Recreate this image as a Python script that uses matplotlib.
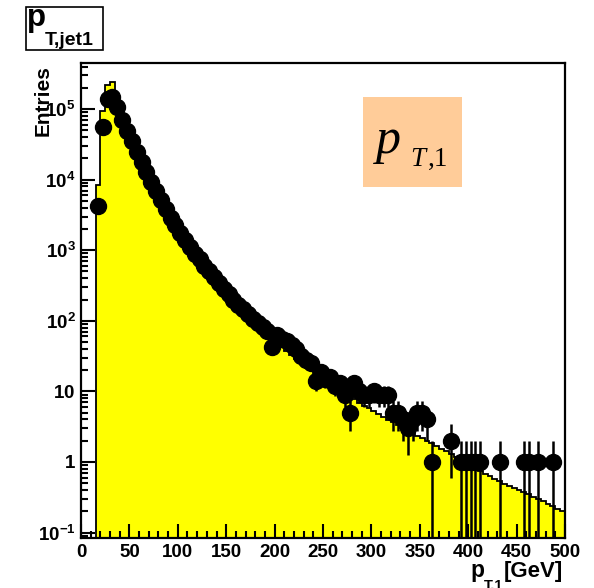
import numpy as np
import matplotlib
matplotlib.use("Agg")
import matplotlib.pyplot as plt
from matplotlib.patches import Rectangle
from matplotlib.ticker import FixedLocator, MultipleLocator, NullFormatter, FixedFormatter

plt.rcParams['font.family'] = ['Liberation Sans', 'DejaVu Sans']
plt.rcParams['mathtext.fontset'] = 'custom'
plt.rcParams['mathtext.rm'] = 'Liberation Sans:bold'
plt.rcParams['mathtext.it'] = 'Liberation Sans:bold'
plt.rcParams['mathtext.bf'] = 'Liberation Sans:bold'

# 5 GeV bins from 15 to 500 GeV
bin_edges = np.arange(15, 505, 5)

# Simulated leading-jet pT spectrum (entries per bin)
mc_counts = [
    8500, 93000, 219000, 240000, 132000, 79400, 51300, 33900, 22900, 15800,
    11200, 8130, 5890, 4370, 3240, 2450, 1910, 1480, 1170, 933,
    759, 617, 501, 417, 347, 288, 240, 204, 174, 148,
    129, 112, 97.7, 85.1, 74.1, 64.6, 56.2, 49.0, 42.7, 37.2,
    32.4, 28.8, 25.7, 22.9, 20.4, 18.2, 16.2, 14.5, 12.9, 11.7,
    10.5, 9.55, 8.51, 7.76, 6.92, 6.31, 5.75, 5.25, 4.79, 4.37,
    3.98, 3.63, 3.31, 3.02, 2.75, 2.57, 2.34, 2.19, 2.00, 1.86,
    1.70, 1.55, 1.41, 1.29, 1.17, 1.07, 0.977, 0.891, 0.813, 0.741,
    0.676, 0.631, 0.575, 0.537, 0.490, 0.457, 0.427, 0.398, 0.372, 0.347,
    0.324, 0.302, 0.282, 0.257, 0.240, 0.219, 0.204,
]

# Measured entries per bin (0 = empty bin)
data_counts = [
    4300, 55000, 138000, 148000, 107000, 71000, 49000, 35000, 24500, 17800,
    12900, 9300, 6900, 5100, 3800, 2900, 2240, 1740, 1380, 1100,
    890, 740, 600, 500, 417, 339, 282, 240, 200, 170,
    145, 126, 107, 93, 83, 72, 42, 63, 55, 52,
    46, 40, 32, 28, 25, 14, 19, 15, 16, 12,
    13, 9, 5, 13, 10, 9, 9, 10, 9, 9,
    9, 5, 5, 4, 3, 4, 5, 5, 4, 1,
    0, 0, 0, 2, 0, 1, 1, 1, 1, 1,
    0, 0, 0, 1, 0, 0, 0, 0, 1, 1,
    0, 1, 0, 0, 1, 0, 0,
]

x_tick_values = [0, 50, 100, 150, 200, 250, 300, 350, 400, 450, 500]
y_tick_values = [1e-1, 1, 10, 1e2, 1e3, 1e4, 1e5]
y_tick_labels = [r'$\mathbf{10^{-1}}$', r'$\mathbf{1}$', r'$\mathbf{10}$',
                 r'$\mathbf{10^{2}}$', r'$\mathbf{10^{3}}$',
                 r'$\mathbf{10^{4}}$', r'$\mathbf{10^{5}}$']

W, H = 594, 588
fig = plt.figure(figsize=(W / 100, H / 100), dpi=100)


def fx(px):
    return px / W


def fy(py):
    return 1 - py / H


ax = fig.add_axes([fx(81), fy(538), (565 - 81) / W, (538 - 63) / H])
ax.set_yscale('log')
ax.set_xlim(0, 500)
ax.set_ylim(0.0838, 4.49e5)

mc = np.array(mc_counts, dtype=float)
data = np.array(data_counts, dtype=float)
centers = 0.5 * (bin_edges[:-1] + bin_edges[1:])

# Filled simulation histogram with black outline
ax.stairs(mc, bin_edges, baseline=1e-3, fill=True, color='#ffff00', zorder=1)
ax.stairs(mc, bin_edges, baseline=1e-3, color='black', lw=1.3, zorder=2)

# Data points with Poisson errors
has = data > 0
xc = centers[has]
yv = data[has]
err = np.sqrt(yv)
lo = np.maximum(yv - err, 1e-3)
hi = yv + err
ax.vlines(xc, lo, hi, color='black', lw=1.8, zorder=3)
ax.plot(xc, yv, 'o', ms=11.5, color='black', mec='black', zorder=4)

# Axes styling
for side in ['left', 'right', 'top', 'bottom']:
    ax.spines[side].set_linewidth(1.6)
ax.xaxis.set_major_locator(FixedLocator(x_tick_values))
ax.xaxis.set_minor_locator(MultipleLocator(10))
ax.yaxis.set_major_locator(FixedLocator(y_tick_values))
ax.yaxis.set_major_formatter(FixedFormatter(y_tick_labels))
ax.yaxis.set_minor_locator(matplotlib.ticker.LogLocator(base=10, subs=np.arange(2, 10), numticks=20))
ax.yaxis.set_minor_formatter(NullFormatter())
ax.tick_params(which='major', direction='in', length=10, width=1.5,
               top=False, right=False, labelsize=13.5, pad=4)
ax.tick_params(which='minor', direction='in', length=5, width=1.5,
               top=False, right=False)
for lab in ax.get_xticklabels():
    lab.set_fontweight('bold')

# Axis titles
fig.text(fx(43), fy(65), 'Entries', rotation=90, ha='center', va='top',
         fontsize=15, fontweight='bold')
fig.text(fx(470), fy(577), 'p', ha='left', va='baseline', fontsize=16.5, fontweight='bold')
fig.text(fx(484), fy(589), 'T,1', ha='left', va='baseline', fontsize=10.5, fontweight='bold')
fig.text(fx(563), fy(577), '[GeV]', ha='right', va='baseline', fontsize=16, fontweight='bold')

# Histogram title box
fig.patches.append(Rectangle((fx(26), fy(50)), (103 - 26) / W, (50 - 7) / H,
                             transform=fig.transFigure, facecolor='white',
                             edgecolor='black', lw=1.2, zorder=5))
fig.text(fx(27), fy(26), 'p', ha='left', va='baseline', fontsize=22.5,
         fontweight='bold', zorder=6)
fig.text(fx(45), fy(45), 'T,jet1', ha='left', va='baseline', fontsize=14,
         fontweight='bold', zorder=6)

# Variable label box
fig.patches.append(Rectangle((fx(363), fy(187)), (462 - 363) / W, (187 - 97) / H,
                             transform=fig.transFigure, facecolor='#ffcc99',
                             edgecolor='none', zorder=5))
fig.text(fx(376), fy(153), 'p', ha='left', va='baseline', fontsize=36,
         family='Liberation Serif', style='italic', zorder=6)
fig.text(fx(410), fy(166), 'T', ha='left', va='baseline', fontsize=19.5,
         family='Liberation Serif', style='italic', zorder=6)
fig.text(fx(428), fy(166), ',1', ha='left', va='baseline', fontsize=19.5,
         family='Liberation Serif', zorder=6)

fig.savefig('out.png', dpi=100)
